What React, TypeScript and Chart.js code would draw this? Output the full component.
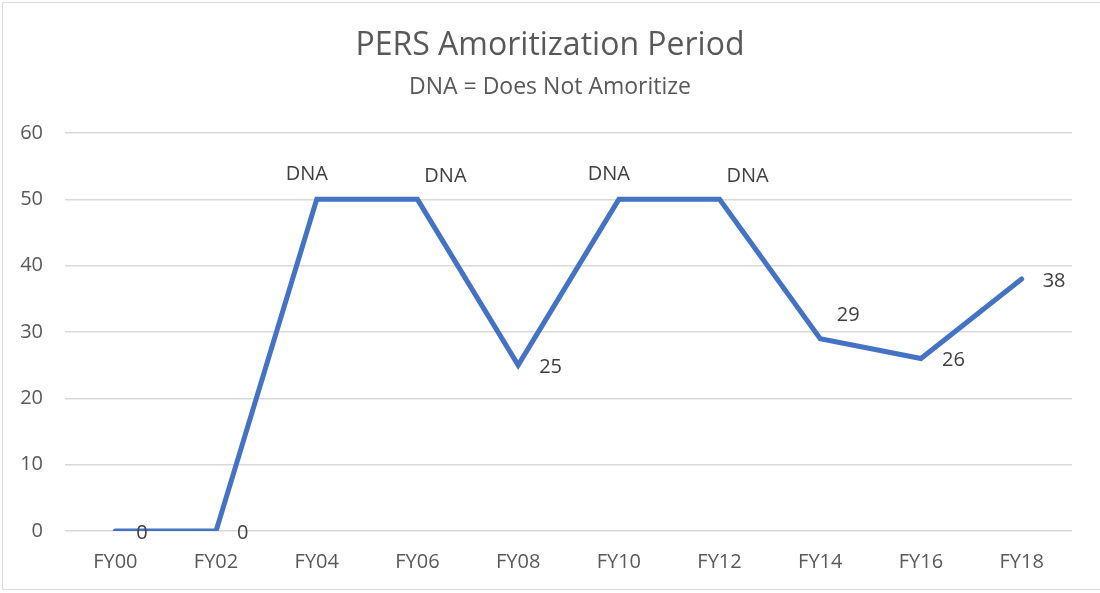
import React, { useEffect, useRef } from "react";
import { Chart, registerables } from "chart.js";

Chart.register(...registerables);

const categories = ["FY00", "FY02", "FY04", "FY06", "FY08", "FY10", "FY12", "FY14", "FY16", "FY18"];
const periodValues = [0, 0, 50, 50, 25, 50, 50, 29, 26, 38];
const pointLabels = ["0", "0", "DNA", "DNA", "25", "DNA", "DNA", "29", "26", "38"];
const yTicks = [0, 10, 20, 30, 40, 50, 60];
const titleText = "PERS Amoritization Period";
const subtitleText = "DNA = Does Not Amoritize";
// label placement relative to each point (style only)
const labelPlacement = ["right", "right", "above", "aboveRight", "right", "above", "aboveRight", "aboveRight", "right", "right"];

const FONT = "'Open Sans', sans-serif";

const labelPlugin = {
  id: "pointLabels",
  afterDatasetsDraw(chart: any) {
    const ctx = chart.ctx;
    const meta = chart.getDatasetMeta(0);
    ctx.save();
    ctx.font = `20px ${FONT}`;
    ctx.fillStyle = "#404040";
    ctx.textBaseline = "middle";
    meta.data.forEach((pt: any, i: number) => {
      const txt = pointLabels[i];
      const p = labelPlacement[i];
      let x = pt.x;
      let y = pt.y;
      if (p === "right") {
        ctx.textAlign = "left";
        x += 21;
        y += 2;
      } else if (p === "above") {
        ctx.textAlign = "center";
        x -= 10;
        y -= 25;
      } else {
        ctx.textAlign = "center";
        x += 28;
        y -= 23;
      }
      ctx.fillText(txt, x, y);
    });
    ctx.restore();
  },
};

const titlePlugin = {
  id: "titles",
  afterDraw(chart: any) {
    const ctx = chart.ctx;
    const cx = chart.width / 2;
    ctx.save();
    ctx.fillStyle = "#595959";
    ctx.textAlign = "center";
    ctx.textBaseline = "middle";
    ctx.font = `32px ${FONT}`;
    ctx.fillText(titleText, cx, 46);
    ctx.font = `23px ${FONT}`;
    ctx.fillText(subtitleText, cx, 87);
    ctx.restore();
  },
};

export default function App() {
  const ref = useRef<HTMLCanvasElement | null>(null);
  useEffect(() => {
    document.body.style.margin = "0";
    const chart = new Chart(ref.current as HTMLCanvasElement, {
      type: "line",
      data: {
        labels: categories,
        datasets: [
          {
            data: periodValues,
            borderColor: "#4472C4",
            borderWidth: 5,
            pointRadius: 0,
            tension: 0,
            borderCapStyle: "round",
            borderJoinStyle: "miter",
          },
        ],
      },
      options: {
        animation: false,
        responsive: false,
        maintainAspectRatio: false,
        layout: { padding: { left: 0, right: 28, top: 133, bottom: 0 } },
        plugins: {
          legend: { display: false },
          tooltip: { enabled: false },
          title: { display: false },
          subtitle: { display: false },
        },
        scales: {
          x: {
            offset: true,
            grid: { display: false },
            border: { display: false },
            ticks: { color: "#595959", font: { family: FONT, size: 20 }, padding: 11 },
            afterFit: (axis: any) => {
              axis.height = 62;
            },
          },
          y: {
            min: 0,
            max: 60,
            afterBuildTicks: (axis: any) => {
              axis.ticks = yTicks.map((v) => ({ value: v }));
            },
            grid: { color: "#D9D9D9", lineWidth: 1.5, drawTicks: false },
            border: { display: false },
            ticks: { color: "#595959", font: { family: FONT, size: 20 }, padding: 22 },
            afterFit: (axis: any) => {
              axis.width = 65;
            },
          },
        },
      },
      plugins: [labelPlugin, titlePlugin],
    });
    return () => chart.destroy();
  }, []);
  return (
    <div style={{ position: "absolute", left: 0, top: 0, width: 1100, height: 593, background: "#fff" }}>
      <div
        style={{
          position: "absolute",
          left: 2,
          top: 2,
          width: 1110,
          height: 588,
          border: "1.5px solid #D9D9D9",
          boxSizing: "border-box",
        }}
      />
      <canvas ref={ref} width={1100} height={593} style={{ position: "absolute", left: 0, top: 0 }} />
    </div>
  );
}
